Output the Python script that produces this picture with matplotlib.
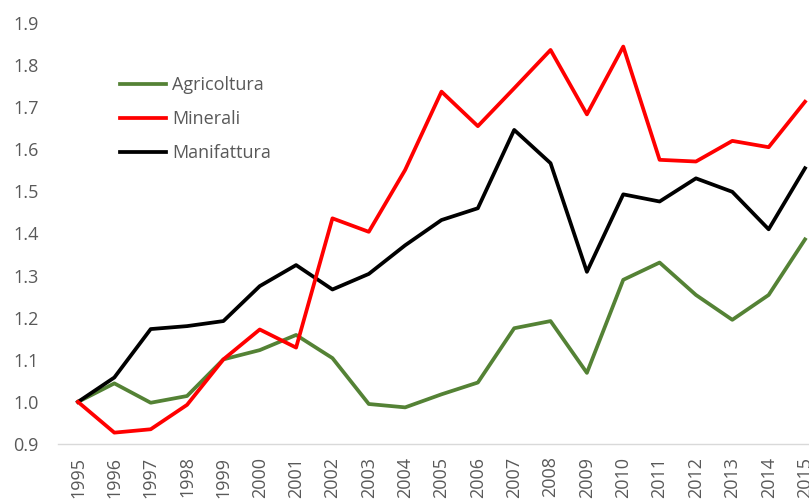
import matplotlib.pyplot as plt

years = list(range(1995, 2016))
agricoltura = [1.0, 1.044, 0.998, 1.014, 1.101, 1.123, 1.159, 1.104, 0.995, 0.987,
               1.018, 1.046, 1.175, 1.192, 1.069, 1.290, 1.331, 1.254, 1.195, 1.254, 1.386]
minerali = [1.0, 0.927, 0.935, 0.993, 1.101, 1.172, 1.129, 1.436, 1.404, 1.551,
            1.737, 1.655, 1.745, 1.836, 1.683, 1.844, 1.575, 1.571, 1.620, 1.605, 1.713]
manifattura = [1.0, 1.058, 1.173, 1.180, 1.192, 1.275, 1.325, 1.267, 1.304, 1.372,
               1.432, 1.460, 1.646, 1.567, 1.309, 1.493, 1.476, 1.531, 1.499, 1.410, 1.555]
yticks = [0.9, 1.0, 1.1, 1.2, 1.3, 1.4, 1.5, 1.6, 1.7, 1.8, 1.9]

plt.rcParams['font.family'] = ['Open Sans', 'DejaVu Sans']
grey = '#595959'

fig = plt.figure(figsize=(8.09, 4.99), dpi=100)
ax = fig.add_axes([58 / 809, 1 - 444 / 499, 1 - 58 / 809, (444 - 23) / 499])

ax.plot(years, agricoltura, color='#548235', lw=2.7, label='Agricoltura', zorder=3)
ax.plot(years, manifattura, color='black', lw=2.7, label='Manifattura', zorder=4)
ax.plot(years, minerali, color='#ff0000', lw=2.7, label='Minerali', zorder=5)

ax.set_xlim(1994.45, 2015.11)
ax.set_ylim(0.9, 1.9)
ax.set_xticks(years)
ax.set_xticklabels([str(y) for y in years], rotation=90, va='top')
ax.set_yticks(yticks)
ax.set_yticklabels(['%.1f' % v for v in yticks])
ax.tick_params(axis='both', length=0, labelsize=13, labelcolor=grey)
ax.tick_params(axis='y', pad=14)
ax.tick_params(axis='x', pad=9)

for s in ['top', 'right', 'left']:
    ax.spines[s].set_visible(False)
ax.spines['bottom'].set_color('#d9d9d9')
ax.spines['bottom'].set_linewidth(1)

h, l = ax.get_legend_handles_labels()
order = [0, 2, 1]
leg = fig.legend([h[i] for i in order], [l[i] for i in order], loc='upper left',
                 bbox_to_anchor=(120 / 809, 1 - 76 / 499), frameon=False,
                 fontsize=13, handlelength=2.55, handletextpad=0.33,
                 labelspacing=0.9, borderpad=0, borderaxespad=0)
for t in leg.get_texts():
    t.set_color(grey)

fig.savefig('out.png', dpi=100)
